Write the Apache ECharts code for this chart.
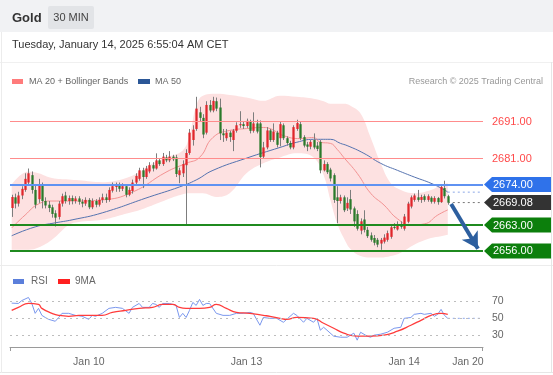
<!DOCTYPE html>
<html><head><meta charset="utf-8">
<script src="https://cdn.jsdelivr.net/npm/echarts@6/dist/echarts.min.js"></script>
<style>html,body{margin:0;padding:0;background:#fff;}#c{width:553px;height:375px;}</style>
</head><body><div id="c"></div>
<script>
// ---------- DATA ----------
const N_CAT = 141; // 131 candles + empty future slots
const xTickIndex = [23, 70, 117, 136];
const xTickLabel = ['Jan 10', 'Jan 13', 'Jan 14', 'Jan 20'];

// [open, close, low, high]
const ohlc = [
[2667.6,2670.6,2665.2,2671.2],[2670.5,2668.8,2667.5,2671.5],[2668.8,2671.0,2668.0,2672.0],[2671.0,2672.8,2670.0,2673.5],
[2672.5,2675.5,2672.0,2677.0],[2674.5,2677.0,2674.0,2678.3],[2676.5,2672.5,2671.5,2677.5],[2672.5,2668.5,2667.5,2674.0],
[2670.0,2674.0,2669.0,2675.5],[2674.0,2669.5,2667.5,2674.5],[2669.5,2668.3,2667.5,2670.5],[2668.5,2667.6,2666.5,2669.5],
[2667.8,2666.0,2665.0,2668.5],[2666.2,2665.0,2662.6,2667.0],[2665.2,2668.8,2664.5,2669.5],[2668.8,2670.8,2668.0,2671.5],
[2671.0,2669.5,2668.8,2672.0],[2669.5,2670.3,2668.5,2671.0],[2670.3,2669.5,2668.6,2671.0],[2669.5,2670.2,2668.8,2670.8],
[2670.2,2669.3,2668.5,2670.8],[2669.3,2668.8,2667.8,2670.0],[2668.8,2669.8,2668.2,2670.5],[2669.8,2667.8,2667.3,2670.3],
[2667.8,2669.5,2667.3,2670.2],[2669.5,2668.5,2667.8,2670.0],[2668.5,2669.8,2668.0,2670.5],[2669.8,2670.5,2669.0,2671.5],
[2670.5,2669.8,2669.0,2671.5],[2669.8,2672.5,2669.3,2673.2],[2672.3,2673.5,2671.8,2674.5],[2673.3,2673.8,2672.0,2674.5],
[2673.8,2672.8,2672.0,2674.5],[2672.8,2673.5,2672.2,2674.3],[2673.5,2671.2,2670.5,2674.0],[2671.2,2672.5,2670.8,2673.2],
[2672.2,2674.5,2671.5,2675.3],[2674.5,2676.3,2674.0,2677.0],[2675.5,2677.8,2675.0,2678.5],[2677.8,2676.0,2673.0,2678.5],
[2676.0,2678.3,2675.5,2679.0],[2677.5,2679.2,2677.0,2680.0],[2679.2,2678.3,2677.5,2680.0],[2678.3,2680.5,2678.0,2682.4],
[2680.5,2679.5,2679.0,2681.0],[2679.5,2681.5,2679.0,2682.5],[2681.3,2680.5,2680.0,2682.0],[2680.5,2681.5,2680.0,2683.0],
[2681.5,2680.8,2680.3,2682.0],[2681.3,2676.8,2676.0,2682.0],[2676.5,2677.8,2674.3,2678.5],[2677.0,2679.5,2676.0,2680.5],
[2679.2,2682.5,2663.0,2683.5],[2682.5,2688.0,2682.0,2689.0],[2686.0,2688.8,2684.5,2690.0],[2689.0,2694.5,2688.5,2697.7],
[2693.5,2692.0,2691.0,2695.0],[2692.0,2687.5,2686.5,2693.0],[2688.0,2695.5,2687.5,2696.5],[2695.5,2694.0,2693.5,2696.8],
[2694.0,2696.6,2693.5,2697.7],[2696.5,2694.5,2693.8,2697.5],[2694.8,2687.8,2686.0,2697.2],[2687.8,2687.3,2685.5,2689.0],
[2686.5,2688.0,2685.8,2689.0],[2688.0,2686.8,2685.5,2688.5],[2686.0,2688.6,2683.0,2689.0],[2688.5,2690.0,2688.0,2690.8],
[2690.0,2690.3,2689.3,2693.8],[2690.3,2689.8,2689.0,2691.0],[2689.8,2691.2,2689.3,2691.8],[2691.0,2688.5,2687.8,2691.5],
[2688.5,2690.5,2688.0,2693.5],[2690.5,2688.3,2687.8,2691.5],[2690.5,2681.4,2678.6,2691.3],[2681.5,2684.0,2681.0,2685.5],
[2684.0,2688.6,2683.5,2689.5],[2688.6,2686.0,2685.5,2689.0],[2686.0,2688.3,2685.5,2690.5],[2688.0,2684.7,2684.0,2688.5],
[2686.5,2690.3,2684.3,2691.0],[2690.0,2686.5,2686.0,2690.5],[2686.5,2685.2,2684.5,2687.0],[2685.2,2684.0,2683.5,2685.8],
[2684.0,2689.5,2683.5,2690.0],[2689.0,2690.6,2688.5,2691.5],[2690.3,2686.5,2686.0,2691.0],[2686.8,2684.5,2684.0,2687.3],
[2684.8,2684.2,2683.0,2685.5],[2684.2,2685.5,2683.5,2686.0],[2686.0,2684.0,2683.5,2687.8],[2684.5,2683.6,2683.0,2685.5],
[2685.5,2677.8,2677.0,2686.0],[2677.8,2679.5,2677.5,2680.5],[2679.5,2677.3,2676.8,2680.0],[2678.0,2675.6,2674.8,2678.5],
[2676.5,2669.8,2669.0,2677.0],[2670.5,2669.5,2663.5,2673.5],[2669.5,2670.5,2668.8,2671.2],[2670.5,2667.0,2666.5,2671.0],
[2667.5,2669.0,2666.8,2670.5],[2670.0,2667.2,2666.0,2672.5],[2667.5,2664.0,2662.5,2668.0],[2666.0,2662.0,2661.5,2667.0],
[2661.5,2664.0,2660.5,2664.8],[2664.5,2661.7,2661.0,2667.0],[2661.7,2660.0,2659.5,2662.5],[2660.2,2659.0,2658.5,2661.0],
[2659.5,2658.2,2657.5,2660.3],[2659.0,2657.7,2657.0,2659.5],[2658.0,2659.0,2656.3,2659.5],[2658.5,2659.6,2658.0,2660.5],
[2659.0,2660.8,2658.5,2661.5],[2659.8,2662.4,2659.3,2663.0],[2662.5,2662.2,2661.8,2663.5],[2661.8,2663.2,2661.5,2664.0],
[2663.2,2662.5,2662.0,2664.0],[2662.0,2665.3,2661.5,2666.0],[2663.9,2668.8,2663.5,2669.3],[2668.0,2670.5,2667.5,2671.0],
[2669.8,2671.0,2669.3,2671.5],[2670.5,2669.8,2669.3,2672.5],[2669.8,2670.6,2669.0,2671.2],[2670.8,2669.8,2669.3,2671.3],
[2669.8,2670.8,2669.3,2671.3],[2670.4,2669.3,2668.8,2670.8],[2669.3,2670.3,2668.8,2670.8],[2670.3,2669.2,2668.5,2670.6],
[2669.2,2673.3,2669.0,2673.8],[2673.0,2670.8,2670.2,2675.0],[2670.8,2669.08,2668.5,2671.2]
];

// Bollinger bands (sampled at candle indices)
const bandIdx   = [0,5,8,12,17,20,27,33,38,41,46,51,53,55,57,61,65,70,75,80,85,90,93,95,97,99,101,104,107,110,113,116,120,125,128,130];
const bandUpper = [2674.0,2677.5,2677.0,2675.7,2675.3,2675.1,2674.6,2675.4,2677.3,2679.2,2681.3,2683.2,2687.2,2695.3,2698.0,2698.5,2698.2,2697.5,2696.6,2698.0,2697.7,2697.2,2696.5,2695.8,2695.8,2695.8,2695.3,2693.2,2686.7,2679.7,2674.3,2672.5,2671.6,2672.5,2673.8,2674.3];
const bandLower = [2656.3,2656.3,2656.9,2659.0,2663.0,2663.8,2664.4,2665.8,2667.0,2668.0,2669.8,2671.3,2671.6,2671.6,2671.6,2670.6,2671.6,2677.0,2679.7,2681.3,2682.4,2681.3,2676.5,2669.8,2663.5,2659.5,2656.5,2654.6,2654.2,2654.2,2654.6,2655.5,2657.7,2659.5,2660.0,2660.4];

const ma20Idx = [0,4,8,12,20,27,36,46,52,56,60,65,70,75,77,81,86,90,92,95,97,99,103,107,111,115,119,123,127,130];
const ma20Val = [2662.2,2665.7,2668.7,2669.5,2669.5,2669.8,2671.9,2677.3,2679.7,2681.3,2686.7,2688.6,2689.1,2689.4,2689.1,2687.2,2686.4,2686.7,2685.4,2685.1,2683.5,2681.3,2677.0,2671.6,2668.4,2664.7,2663.0,2663.3,2665.7,2667.1];

const ma50Idx = [0,7,13,18,27,41,50,55,60,70,80,85,90,95,98,100,105,110,115,120,125,129,130];
const ma50Val = [2660.1,2662.5,2663.6,2664.4,2666.3,2670.6,2673.3,2675.2,2677.8,2681.1,2684.0,2685.4,2686.2,2686.2,2685.1,2684.5,2682.4,2679.7,2677.8,2676.0,2674.3,2672.5,2671.9];

// key levels
const resistanceLevels = [2691.00, 2681.00];
const pivotLevel = 2674.00;
const supportLevels = [2663.00, 2656.00];
const lastPrice = 2669.08;
const forecastArrow = [[131, 2668.7], [139, 2656.6]];

// RSI panel
const rsiIdx = [0,2,3,5,6,7,8,9,10,11,13,14,15,17,19,21,23,24,25,27,29,31,33,35,36,38,39,41,42,43,44,45,47,49,50,51,52,53,54,55,56,57,58,59,61,63,65,67,69,71,72,74,75,77,79,81,84,85,87,88,90,91,92,93,94,96,98,100,102,103,104,106,107,108,110,112,114,116,117,119,120,122,123,125,126,127,128,129,130];
const rsiVal = [68,67.6,71,74.7,67.6,55.9,61.8,53.5,51,48.8,46.5,51,55.9,55.9,53.5,52.4,48.8,53.5,52.4,55.9,61.8,63,61.8,55.9,63,67.6,63,63,67.6,66.5,63,67.6,67.6,65.3,51,55.9,51,59.4,68.8,65.3,72.4,65.3,67.6,67.6,55.9,53.5,53.5,55.9,55.9,57,55.9,41.8,51,50,50,45.3,55.9,53.5,45.3,50,45.3,50,35.9,39.4,35.9,28.8,27.6,27.6,32.4,24.1,33.5,28.8,27.6,30,31.2,33.5,38.2,39.4,50,51,54.7,55.9,54.7,55.9,52.4,54.7,60.6,53.5,50];
const rsiMaIdx = [0,2,5,8,9,12,14,17,20,24,27,30,34,38,42,45,48,50,52,56,59,61,64,67,71,75,77,80,82,85,90,93,96,99,103,107,111,115,119,122,125,128,130];
const rsiMaVal = [59.4,63,67.6,66.5,61.8,55.9,53.5,52.4,53.5,53.5,53.5,57,59.4,61.8,63,66.5,66.5,63,61.8,61.8,63,66.5,61.8,57,55.9,53.5,52.4,50,48.8,51,50,44.1,38.2,32.4,28.8,28.8,30,34.7,41.8,47.6,53.5,55.9,54.7];
const rsiLevels = [70, 50, 30];

// ---------- CHART ----------
const FONT = '"Liberation Sans", Arial, sans-serif';
const UP = '#e0262b', DOWN = '#2b7a2b', WICK = '#7d7d7d';
const categories = Array.from({length: N_CAT}, (_, i) => String(i));
const pairs = (idx, val) => idx.map((x, k) => [x, val[k]]);
const last = ohlc.length - 1;

const chart = echarts.init(document.getElementById('c'), null, {renderer: 'canvas'});

const option = {
  animation: false,
  backgroundColor: '#ffffff',
  textStyle: {fontFamily: FONT},
  grid: [
    {left: 10, right: 70, top: 92, height: 170},
    {left: 10, right: 70, top: 293, height: 54}
  ],
  xAxis: [
    {gridIndex: 0, type: 'category', data: categories, boundaryGap: true, show: false},
    {gridIndex: 1, type: 'category', data: categories, boundaryGap: true,
     axisLine: {lineStyle: {color: '#9a9a9a', width: 1}},
     axisTick: {show: false},
     axisLabel: {
       color: '#666', fontSize: 10.5, fontFamily: FONT, margin: 10,
       interval: (i) => xTickIndex.indexOf(i) >= 0,
       formatter: (v, i) => { const k = xTickIndex.indexOf(i); return k >= 0 ? xTickLabel[k] : ''; }
     }}
  ],
  yAxis: [
    {gridIndex: 0, type: 'value', min: 2653, max: 2699, show: false, splitLine: {show: false}},
    {gridIndex: 1, type: 'value', min: 16, max: 80, show: false, splitLine: {show: false}}
  ],
  series: [
    {name: 'bbLow', type: 'line', stack: 'bb', data: pairs(bandIdx, bandLower), symbol: 'none', smooth: 0.4,
     lineStyle: {opacity: 0}, silent: true, z: 1},
    {name: 'bbWidth', type: 'line', stack: 'bb', data: bandIdx.map((x, k) => [x, +(bandUpper[k] - bandLower[k]).toFixed(2)]),
     symbol: 'none', smooth: 0.4, lineStyle: {opacity: 0}, areaStyle: {color: '#fde1e1', opacity: 1}, silent: true, z: 1},
    {name: 'levels', type: 'line', data: [[last, lastPrice], [N_CAT - 1, lastPrice]], symbol: 'none',
     lineStyle: {color: '#777', width: 1, type: [2, 3]}, silent: true, z: 2,
     markLine: {
       silent: true, symbol: 'none', label: {show: false},
       data: [
         ...resistanceLevels.map(v => ({yAxis: v, lineStyle: {color: '#ff8c8c', width: 1, type: 'solid'}})),
         {yAxis: pivotLevel, lineStyle: {color: '#5f92f2', width: 2, type: 'solid'}},
         ...supportLevels.map(v => ({yAxis: v, lineStyle: {color: '#1f8a1f', width: 2, type: 'solid'}}))
       ]
     }},
    {name: 'ma50', type: 'line', data: pairs(ma50Idx, ma50Val), symbol: 'none', smooth: 0.5,
     lineStyle: {color: '#5573b0', width: 1}, silent: true, z: 2},
    {name: 'ma50proj', type: 'line', data: [[last, ma50Val[ma50Val.length - 1]], [N_CAT - 1, ma50Val[ma50Val.length - 1]]],
     symbol: 'none', lineStyle: {color: '#8aa6e6', width: 1, type: [2, 3]}, silent: true, z: 2},
    {name: 'ma20', type: 'line', data: pairs(ma20Idx, ma20Val), symbol: 'none', smooth: 0.5,
     lineStyle: {color: '#f39393', width: 1}, silent: true, z: 2},
    {name: 'candles', type: 'custom', data: ohlc.map((d, i) => [i, d[0], d[1], d[2], d[3]]),
     encode: {x: 0, y: [1, 2, 3, 4]}, z: 3, silent: true,
     renderItem: function (params, api) {
       const i = api.value(0), o = api.value(1), c = api.value(2), l = api.value(3), h = api.value(4);
       const pO = api.coord([i, o]), pC = api.coord([i, c]), pL = api.coord([i, l]), pH = api.coord([i, h]);
       const w = api.size([1, 0])[0] * 0.68;
       const x = Math.round(pO[0]) + 0.5;
       const top = Math.min(pO[1], pC[1]);
       const hh = Math.max(1, Math.abs(pO[1] - pC[1]));
       return {type: 'group', children: [
         {type: 'line', shape: {x1: x, y1: pH[1], x2: x, y2: pL[1]}, style: {stroke: WICK, lineWidth: 1}},
         {type: 'rect', shape: {x: x - w / 2, y: top, width: w, height: hh}, style: {fill: c >= o ? UP : DOWN}}
       ]};
     }},
    {name: 'arrow', type: 'line', data: [], symbol: 'none', z: 4, silent: true,
     markLine: {
       silent: true, symbol: ['none', 'arrow'], symbolSize: [14, 16], label: {show: false},
       lineStyle: {color: '#2d5f9f', width: 4, type: 'solid'},
       data: [[{coord: forecastArrow[0]}, {coord: forecastArrow[1]}]]
     }},
    // RSI panel
    {name: 'RSI', type: 'line', xAxisIndex: 1, yAxisIndex: 1, data: pairs(rsiIdx, rsiVal), symbol: 'none',
     lineStyle: {color: '#7b98ee', width: 1}, silent: true, z: 3,
     markLine: {
       silent: true, symbol: 'none',
       lineStyle: {color: '#bdbdbd', width: 1, type: [2, 4]},
       label: {show: true, position: 'end', distance: 9, color: '#666', fontSize: 10.5, fontFamily: FONT, formatter: p => String(p.value)},
       data: rsiLevels.map(v => ({yAxis: v}))
     }},
    {name: 'RSIproj', type: 'line', xAxisIndex: 1, yAxisIndex: 1,
     data: [[last, rsiVal[rsiVal.length - 1]], [N_CAT - 1, rsiVal[rsiVal.length - 1]]], symbol: 'none',
     lineStyle: {color: '#8aa6ee', width: 1, type: [2, 3]}, silent: true, z: 3},
    {name: '9MA', type: 'line', xAxisIndex: 1, yAxisIndex: 1, data: pairs(rsiMaIdx, rsiMaVal), symbol: 'none', smooth: 0.5,
     lineStyle: {color: '#ff3c3c', width: 1.3}, silent: true, z: 4}
  ]
};
chart.setOption(option);

// ---------- decorations & level labels ----------
const yPix = v => chart.convertToPixel({yAxisIndex: 0}, v);
const g = [];
// header
g.push({type: 'rect', shape: {x: 0, y: 0, width: 553, height: 32}, style: {fill: '#f1f2f4'}, z: 0});
g.push({type: 'rect', shape: {x: 48, y: 6, width: 46, height: 23, r: 2}, style: {fill: '#e2e4e7'}, z: 1});
g.push({type: 'text', x: 12, y: 18, style: {text: 'Gold', font: 'bold 13px ' + FONT, fill: '#333', verticalAlign: 'middle'}, z: 2});
g.push({type: 'text', x: 71, y: 18, style: {text: '30 MIN', font: '11px ' + FONT, fill: '#444', align: 'center', verticalAlign: 'middle'}, z: 2});
g.push({type: 'text', x: 12, y: 45, style: {text: 'Tuesday, January 14, 2025 6:55:04 AM CET', font: '11px ' + FONT, fill: '#333', verticalAlign: 'middle'}, z: 2});
// frame lines
g.push({type: 'line', shape: {x1: 0, y1: 62.5, x2: 553, y2: 62.5}, style: {stroke: '#f0f0f0', lineWidth: 1}, z: 0});
g.push({type: 'line', shape: {x1: 0, y1: 265.5, x2: 553, y2: 265.5}, style: {stroke: '#ececec', lineWidth: 1}, z: 0});
g.push({type: 'line', shape: {x1: 0, y1: 372.5, x2: 553, y2: 372.5}, style: {stroke: '#e6e6e6', lineWidth: 1}, z: 0});
g.push({type: 'line', shape: {x1: 551.5, y1: 62, x2: 551.5, y2: 373}, style: {stroke: '#e6e6e6', lineWidth: 1}, z: 0});
g.push({type: 'line', shape: {x1: 1.5, y1: 32, x2: 1.5, y2: 373}, style: {stroke: '#ececec', lineWidth: 1}, z: 0});
// legend main
g.push({type: 'rect', shape: {x: 12, y: 79, width: 11, height: 5}, style: {fill: '#ff7b7b'}, z: 2});
g.push({type: 'text', x: 29, y: 81.5, style: {text: 'MA 20 + Bollinger Bands', font: '9px ' + FONT, fill: '#666', verticalAlign: 'middle'}, z: 2});
g.push({type: 'rect', shape: {x: 138, y: 79, width: 12, height: 5}, style: {fill: '#2b5797'}, z: 2});
g.push({type: 'text', x: 155, y: 81.5, style: {text: 'MA 50', font: '9px ' + FONT, fill: '#666', verticalAlign: 'middle'}, z: 2});
g.push({type: 'text', x: 543, y: 81.5, style: {text: 'Research \u00A9 2025 Trading Central', font: '9px ' + FONT, fill: '#999', align: 'right', verticalAlign: 'middle'}, z: 2});
// legend RSI
g.push({type: 'rect', shape: {x: 13, y: 279, width: 11, height: 5}, style: {fill: '#5b7fdb'}, z: 2});
g.push({type: 'text', x: 31, y: 281.5, style: {text: 'RSI', font: '10px ' + FONT, fill: '#666', verticalAlign: 'middle'}, z: 2});
g.push({type: 'rect', shape: {x: 58, y: 279, width: 12, height: 5}, style: {fill: '#ff2020'}, z: 2});
g.push({type: 'text', x: 75, y: 281.5, style: {text: '9MA', font: '10px ' + FONT, fill: '#666', verticalAlign: 'middle'}, z: 2});
// x-axis end ticks
g.push({type: 'line', shape: {x1: 10.5, y1: 347, x2: 10.5, y2: 351}, style: {stroke: '#9a9a9a', lineWidth: 1}, z: 2});
g.push({type: 'line', shape: {x1: 482.5, y1: 347, x2: 482.5, y2: 351}, style: {stroke: '#9a9a9a', lineWidth: 1}, z: 2});

// level labels
function boxLabel(v, color) {
  const y = yPix(v);
  g.push({type: 'polygon', shape: {points: [[484, y], [492, y - 7.5], [551, y - 7.5], [551, y + 7.5], [492, y + 7.5]]},
          style: {fill: color}, z: 5});
  g.push({type: 'text', x: 493, y: y + 0.5, style: {text: v.toFixed(2), font: '11px ' + FONT, fill: '#fff', verticalAlign: 'middle'}, z: 6});
}
resistanceLevels.forEach(v => {
  g.push({type: 'text', x: 492, y: yPix(v) + 0.5, style: {text: v.toFixed(2), font: '11px ' + FONT, fill: '#ff4a4a', verticalAlign: 'middle'}, z: 6});
});
boxLabel(pivotLevel, '#2f72ea');
boxLabel(lastPrice, '#333333');
supportLevels.forEach(v => boxLabel(v, '#0c7f0c'));

chart.setOption({graphic: {elements: g}});
</script></body></html>
